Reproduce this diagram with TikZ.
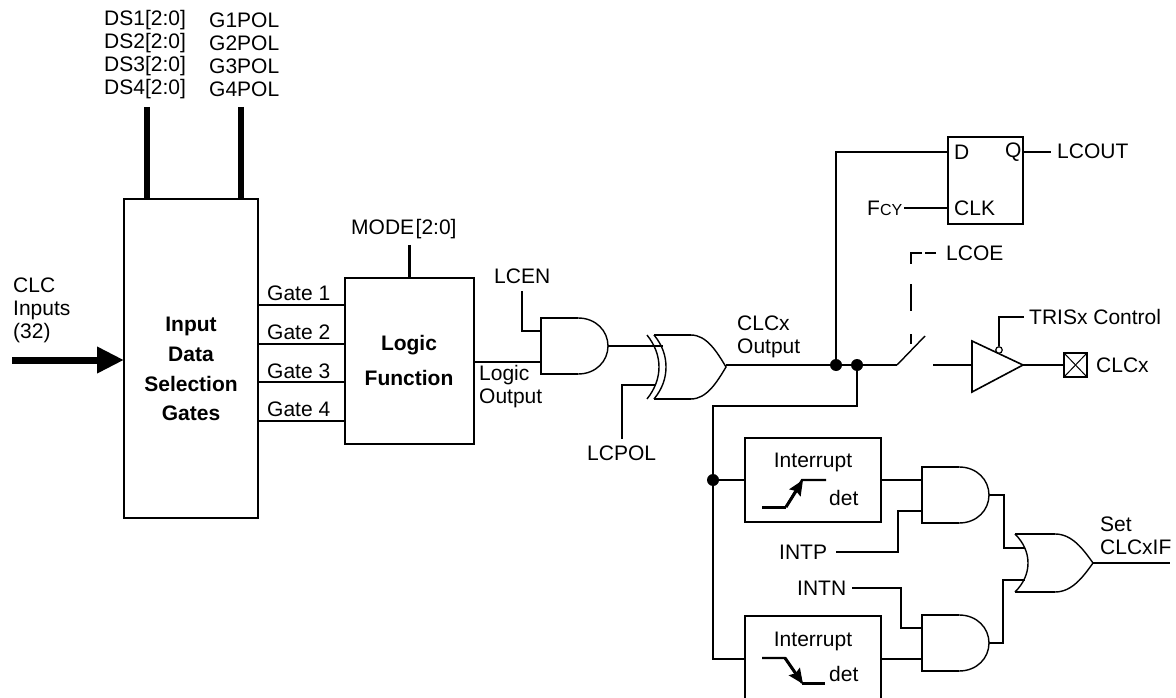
\documentclass[tikz,border=0pt]{standalone}
\usepackage{fontspec}
\setmainfont{Liberation Sans}
\usetikzlibrary{arrows.meta, positioning, calc}

\begin{document}
\begin{tikzpicture}[
    x=1pt, y=-1pt,
    wire/.style={line width=2.2pt},
    curve/.style={line width=1.4pt},
    busline/.style={line width=5.5pt},
    block/.style={draw, line width=2.2pt, anchor=north west, inner sep=0pt, outer sep=0pt},
    lbl/.style={anchor=west, inner sep=0pt, align=left, font=\fontsize{21}{23}\selectfont},
    boldlbl/.style={inner sep=0pt, align=center},
    dot/.style={circle, fill=black, inner sep=0pt, minimum size=12pt},
    andgate/.pic={
        \draw[wire] (37,-28) -- (0,-28) -- (0,28) -- (37,28);
        \draw[curve] (37,-28) .. controls (55,-28) and (67,-15) .. (67,0) .. controls (67,15) and (55,28) .. (37,28);
        \coordinate (-a) at (0,-15);
        \coordinate (-b) at (0,16);
        \coordinate (-tip) at (67,0);
    },
    orgate/.pic={
        \draw[wire] (0,-29) -- (40,-29);
        \draw[wire] (0,29) -- (40,29);
        \draw[curve] (40,-29) .. controls (57,-29) and (68,-14) .. (78,0) .. controls (68,14) and (57,29) .. (40,29);
        \draw[curve] (0,-29) .. controls (9,-20) and (13,-10) .. (13,0) .. controls (13,10) and (9,20) .. (0,29);
        \coordinate (-a) at (10,-15);
        \coordinate (-b) at (10,17);
        \coordinate (-tip) at (78,0);
    },
]
    \path[use as bounding box, clip] (0,0) rectangle (1176,698);

    % left blocks
    \node[block, minimum width=134pt, minimum height=319pt] (input) at (124,199) {};
    \node[boldlbl, font=\fontsize{21}{29.8}\selectfont\bfseries] (inputtxt) at (191,369) {Input\\Data\\Selection\\Gates};
    \node[block, minimum width=129pt, minimum height=166pt] (logic) at (345,278) {};
    \node[boldlbl, font=\fontsize{21}{35}\selectfont\bfseries] (logictxt) at (409,360) {Logic\\Function};

    % bus labels on top
    \node[lbl] (dslbl) at (104,55) {DS1[2:0]\\DS2[2:0]\\DS3[2:0]\\DS4[2:0]};
    \node[lbl] (glbl) at (209,55) {G1POL\\G2POL\\G3POL\\G4POL};
    \coordinate (dsend) at (147,107);
    \coordinate (gend) at (241,107);
    \draw[busline] (dsend) -- (dsend |- input.north);
    \draw[busline] (gend) -- (gend |- input.north);

    % CLC inputs
    \node[lbl] (clcin) at (13,310) {CLC\\Inputs\\(32)};
    \coordinate (instart) at (12,360);
    \draw[line width=7pt, -{Triangle[length=27pt, width=25pt]}] (instart) -- (instart -| input.west);

    % gate lines
    \draw[wire] (input.east |- 0,305) -- (logic.west |- 0,305);
    \draw[wire] (input.east |- 0,344) -- (logic.west |- 0,344);
    \draw[wire] (input.east |- 0,382) -- (logic.west |- 0,382);
    \draw[wire] (input.east |- 0,421) -- (logic.west |- 0,421);
    \node[lbl] (gate1) at (267,293) {Gate 1};
    \node[lbl] (gate2) at (267,332) {Gate 2};
    \node[lbl] (gate3) at (267,371) {Gate 3};
    \node[lbl] (gate4) at (267,409) {Gate 4};

    \node[lbl, inner ysep=6pt] (mode) at (351,229) {MODE\kern1.5pt[2:0]};
    \draw[line width=2.8pt] (mode.south -| logic.north) -- (logic.north);

    % AND and XOR
    \pic (andin) at (541,346) {andgate};
    \node[lbl] (lcen) at (494,276) {LCEN};
    \draw[wire] (522,291) |- (andin-a);
    \draw[wire] (logic.east |- andin-b) -- (andin-b);
    \node[lbl] (logicout) at (479,387) {Logic\\Output};

    \pic[xscale=0.923, yscale=1.103] (xorgate) at (654,367) {orgate};
    \draw[curve] (647,335) .. controls (655,345) and (659,356) .. (659,367) .. controls (659,378) and (655,389) .. (647,399);
    \coordinate (lcpolin) at (656,385);
    \draw[wire] (andin-tip) -- (andin-tip -| xorgate-a);
    \node[lbl] (lcpol) at (587,453) {LCPOL};
    \draw[wire] (622,439) |- (lcpolin);

    % output and flip-flop
    \node[lbl] (clcxout) at (737,337) {CLCx\\Output};
    \node[dot] (jone) at (836,365) {};
    \node[dot] (jtwo) at (857,365) {};
    \coordinate (swl) at (897,365);
    \draw[wire] (xorgate-tip |- jone) -- (jone) -- (jtwo) -- (swl);
    \draw[curve] (swl) -- (925,336);
    \node[block, minimum width=75pt, minimum height=87pt] (ff) at (948,137) {};
    \node[lbl] (dpin) at (954,152) {D};
    \node[lbl] (qpin) at (1005,152) {Q};
    \node[lbl] (clkpin) at (954,208) {CLK};
    \draw[wire] (jone) |- (ff.west |- dpin);
    \node[lbl] (lcout) at (1057,151) {LCOUT};
    \draw[wire] (ff.east |- qpin) -- (1051,152);
    \node[lbl, inner xsep=2pt] (fcy) at (865,208) {F{\fontsize{16}{16}\selectfont CY}};
    \draw[wire] (fcy.east) -- (ff.west |- fcy);

    % LCOE and tristate buffer
    \node[lbl, inner xsep=10pt] (lcoe) at (936,253) {LCOE};
    \coordinate (lcoeend) at (911,344);
    \draw[wire, dash pattern=on 11pt off 3pt on 22pt off 20pt on 27pt off 23pt on 10pt] (lcoe.west) -| (lcoeend);
    \coordinate (bufin) at (972,365);
    \coordinate (bufout) at (1023,365);
    \draw[line width=1.6pt] (972,341) -- (bufout) -- (972,392) -- cycle;
    \draw[wire] (933,365) -- (bufin);
    \node[circle, draw, line width=1.2pt, fill=white, inner sep=0pt, minimum size=6.5pt] (bubble) at (999,350) {};
    \node[lbl, inner xsep=5pt] (tris) at (1024,317) {TRISx Control};
    \draw[wire] (bubble.north) |- (tris.west);
    \node[block, minimum width=23pt, minimum height=24pt] (pad) at (1064,353) {};
    \draw[line width=1pt] (pad.north west) -- (pad.south east);
    \draw[line width=1pt] (pad.south west) -- (pad.north east);
    \draw[wire] (bufout) -- (pad.west);
    \node[lbl] (clcx) at (1096,365) {CLCx};

    % interrupt detectors
    \node[block, minimum width=136pt, minimum height=84pt] (detp) at (745,438) {};
    \node[lbl, anchor=center] (intptxt) at (813,462) {Interrupt};
    \node[lbl] (detptxt) at (829,498) {det};
    \node[block, minimum width=136pt, minimum height=100pt] (detn) at (745,616) {};
    \node[lbl, anchor=center] (intntxt) at (813,641) {Interrupt};
    \node[lbl] (detntxt) at (829,674) {det};
    \draw[line width=3pt] (762,507) -- (786,507);
    \draw[wire] (786,507) -- (802,480) -- (826,480);
    \draw[line width=3pt, -{Stealth[length=15pt, width=13pt, inset=2pt]}] (786,507) -- (803,480);
    \draw[wire] (762,658) -- (785,658) -- (802,683);
    \draw[line width=3pt] (802,683) -- (825,683);
    \draw[line width=3pt, -{Stealth[length=15pt, width=13pt, inset=2pt]}] (785,658) -- (803,684);

    % gates at the bottom
    \pic (andp) at (922,495) {andgate};
    \pic (andn) at (922,643) {andgate};
    \pic (orout) at (1015,563) {orgate};
    \node[dot] (jthree) at (713,480) {};
    \draw[wire] (jtwo) |- (713,406) -- (jthree);
    \draw[wire] (jthree) |- (detn.west |- andn-b);
    \draw[wire] (jthree) -- (detp.west |- andp-a);
    \draw[wire] (detp.east |- andp-a) -- (andp-a);
    \draw[wire] (detn.east |- andn-b) -- (andn-b);
    \node[lbl, inner xsep=9pt] (intp) at (770,552) {INTP};
    \node[lbl, inner xsep=6pt] (intn) at (791,588) {INTN};
    \draw[wire] (intp.east) -| (898,511) -- (andp-b);
    \draw[wire] (intn.east) -| (901,628) -- (andn-a);
    \draw[wire] (andp-tip) -| (1004,548) -- (orout-a);
    \draw[wire] (andn-tip) -| (1003,580) -- (orout-b);
    \node[lbl] (setif) at (1100,536) {Set\\CLCxIF};
    \coordinate (setend) at (1170,563);
    \draw[wire] (orout-tip) -- (setend);
\end{tikzpicture}
\end{document}
